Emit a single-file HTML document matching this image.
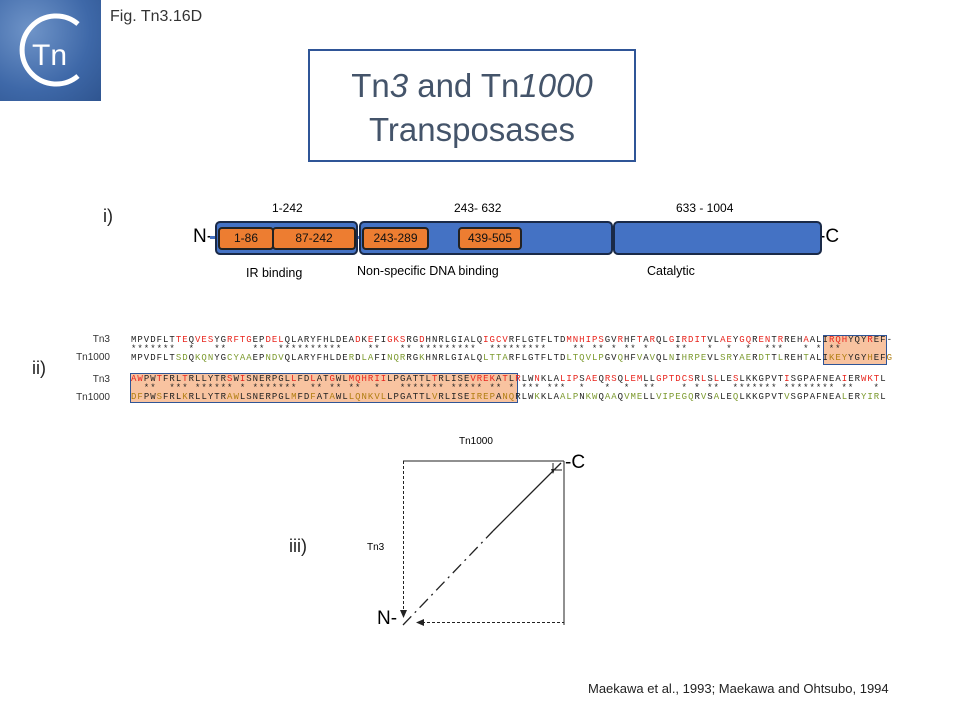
<!DOCTYPE html>
<html><head><meta charset="utf-8"><style>
body{margin:0;width:960px;height:720px;background:#fff;position:relative;overflow:hidden;font-family:"Liberation Sans",sans-serif}
.a{position:absolute}
.seq{position:absolute;left:131px;font-family:"Liberation Mono",monospace;font-size:9px;line-height:9px;white-space:pre;color:#222;letter-spacing:1px}
.r{color:#e8241c}.g{color:#7c9a2e}.o{color:#b07d10}
.lbl{position:absolute;font-size:10px;color:#333;text-align:right;width:60px}
.box{position:absolute;background:#4472c4;border:2px solid #1a2a48;border-radius:5px}
.ob{position:absolute;background:#ed7d31;border:2px solid #222;border-radius:4px;color:#111;font-size:12px;text-align:center;line-height:19px}
</style></head><body>
<div class="a" style="left:0;top:0;width:101px;height:101px;background:radial-gradient(circle at 30% 30%,#6f94c8,#3e68a8 60%,#2f5590);"></div>
<svg class="a" style="left:0;top:0" width="101" height="101"><path d="M78 24 A34 34 0 1 0 78 76" fill="none" stroke="#fff" stroke-width="5"/><text x="32" y="65" font-family="Liberation Sans" font-size="30" fill="#fff">Tn</text></svg>
<div class="a" style="left:110px;top:8px;font-size:16px;color:#333">Fig. Tn3.16D</div>
<div class="a" style="left:308px;top:49px;width:328px;height:113px;border:2px solid #2f5597;text-align:center;color:#44546a;font-size:33px;line-height:44px;padding-top:13px;box-sizing:border-box">Tn<i>3</i> and Tn<i>1000</i><br>Transposases</div>
<div class="a" style="left:103px;top:206px;font-size:18px;color:#222">i)</div>
<div class="a" style="left:272px;top:201px;font-size:12px">1-242</div>
<div class="a" style="left:454px;top:201px;font-size:12px">243- 632</div>
<div class="a" style="left:676px;top:201px;font-size:12px">633 - 1004</div>
<div class="a" style="left:193px;top:226px;font-size:19px">N-</div>
<div class="a" style="left:819px;top:226px;font-size:19px">-C</div>
<div class="a" style="left:210px;top:236px;width:612px;height:3px;background:#4472c4"></div>
<div class="box" style="left:215px;top:221px;width:139px;height:30px"></div>
<div class="box" style="left:359px;top:221px;width:250px;height:30px"></div>
<div class="box" style="left:613px;top:221px;width:205px;height:30px"></div>
<div class="ob" style="left:218px;top:227px;width:52px;height:19px">1-86</div>
<div class="ob" style="left:272px;top:227px;width:80px;height:19px">87-242</div>
<div class="ob" style="left:362px;top:227px;width:63px;height:19px">243-289</div>
<div class="ob" style="left:458px;top:227px;width:60px;height:19px">439-505</div>
<div class="a" style="left:246px;top:266px;font-size:12.5px">IR binding</div>
<div class="a" style="left:357px;top:264px;font-size:12.5px">Non-specific DNA binding</div>
<div class="a" style="left:647px;top:264px;font-size:12.5px">Catalytic</div>
<div class="a" style="left:32px;top:358px;font-size:18px;color:#222">ii)</div>
<div class="lbl" style="left:50px;top:334px">Tn3</div>
<div class="lbl" style="left:50px;top:352px">Tn1000</div>
<div class="lbl" style="left:50px;top:374px">Tn3</div>
<div class="lbl" style="left:50px;top:392px">Tn1000</div>
<div class="a" style="left:823px;top:335px;width:62px;height:28px;background:#f8c3a0;border:1px solid #2f5597"></div>
<div class="a" style="left:130px;top:373px;width:386px;height:28px;background:#f8c3a0;border:1px solid #2f5597"></div>
<div class="seq" style="top:336px">MPVDFLT<span class="r">TE</span>Q<span class="r">VES</span>YG<span class="r">RFTG</span>EP<span class="r">DEL</span>QLARYFHLDEA<span class="r">D</span>K<span class="r">E</span>FI<span class="r">GKS</span>RG<span class="r">D</span>HNRLGIALQ<span class="r">IGCV</span>RFLGTFLTD<span class="r">MNHIPS</span>GV<span class="r">R</span>HF<span class="r">T</span>A<span class="r">R</span>QL<span class="r">G</span>I<span class="r">RDIT</span>VL<span class="r">AE</span>Y<span class="r">GQ</span>R<span class="r">EN</span>T<span class="r">R</span>REH<span class="r">A</span>ALI<span class="r">RQH</span>YQY<span class="r">R</span>EF-
*******  *   **    **  **********    **   ** *********  *********    ** ** * ** *    **   *  *  *  ***   * * **
MPVDFLT<span class="g">SD</span>Q<span class="g">KQN</span>YG<span class="g">CYAA</span>EP<span class="g">NDV</span>QLARYFHLDE<span class="g">R</span>D<span class="g">LA</span>FI<span class="g">NQR</span>RG<span class="g">K</span>HNRLGIALQ<span class="g">LTTA</span>RFLGTFLTD<span class="g">LTQVLP</span>GV<span class="g">Q</span>HF<span class="g">V</span>A<span class="g">V</span>QL<span class="g">N</span>I<span class="g">HRPE</span>VL<span class="g">SR</span>Y<span class="g">AE</span>R<span class="g">DT</span>T<span class="g">L</span>REH<span class="g">T</span>ALI<span class="o">KEY</span>YGY<span class="o">H</span>EF<span class="o">G</span></div>
<div class="seq" style="top:375px"><span class="r">AW</span>PW<span class="r">T</span>FRL<span class="r">T</span>RLLYTR<span class="r">S</span>W<span class="r">I</span>SNERPGL<span class="r">L</span>FD<span class="r">L</span>AT<span class="r">G</span>WL<span class="r">MQHRII</span>LPGATTL<span class="r">T</span>RLISE<span class="r">VREK</span>A<span class="r">T</span>L<span class="r">R</span>LW<span class="r">N</span>KLA<span class="r">LIP</span>S<span class="r">AE</span>Q<span class="r">RS</span>Q<span class="r">LEM</span>LL<span class="r">GPTDCS</span>R<span class="r">L</span>S<span class="r">L</span>LE<span class="r">S</span>LKKGPVT<span class="r">I</span>SGPAFNEA<span class="r">I</span>ER<span class="r">WKT</span>L
  **  *** ****** * *******  ** ** **  *   ******* ***** ** * *** ***  *   *  *  **    * * **  ******* ******** **   *
<span class="o">DF</span>PW<span class="o">S</span>FRL<span class="o">K</span>RLLYTR<span class="o">AW</span>LSNERPGL<span class="o">M</span>FD<span class="o">F</span>AT<span class="o">A</span>WL<span class="o">LQNKVL</span>LPGATTL<span class="o">V</span>RLISE<span class="o">IREP</span>A<span class="o">NQ</span>RLW<span class="g">K</span>KLA<span class="g">ALP</span>N<span class="g">KW</span>Q<span class="g">AA</span>Q<span class="g">VME</span>LL<span class="g">VIPEGQ</span>R<span class="g">V</span>S<span class="g">A</span>LE<span class="g">Q</span>LKKGPVT<span class="g">V</span>SGPAFNEA<span class="g">L</span>ER<span class="g">YIR</span>L</div>
<div class="a" style="left:289px;top:536px;font-size:18px;color:#222">iii)</div>
<div class="a" style="left:459px;top:436px;font-size:10px">Tn1000</div>
<div class="a" style="left:367px;top:542px;font-size:10px">Tn3</div>
<div class="a" style="left:377px;top:608px;font-size:19px">N-</div>
<div class="a" style="left:565px;top:452px;font-size:19px">-C</div>
<svg class="a" style="left:0;top:0" width="960" height="720">
<line x1="403" y1="461" x2="564" y2="461" stroke="#222" stroke-width="1"/>
<line x1="564" y1="461" x2="564" y2="625" stroke="#222" stroke-width="1"/>
<line x1="403.5" y1="461" x2="403.5" y2="612" stroke="#222" stroke-width="1" stroke-dasharray="3,2"/>
<path d="M400 610 L403.5 618 L407 610 Z" fill="#222"/>
<line x1="422" y1="622.5" x2="564" y2="622.5" stroke="#222" stroke-width="1" stroke-dasharray="3,2"/>
<path d="M424 619 L416 622.5 L424 626 Z" fill="#222"/>
<line x1="403" y1="625" x2="493" y2="531" stroke="#222" stroke-width="1.3" stroke-dasharray="12,5,2,5"/>
<line x1="493" y1="531" x2="561" y2="463" stroke="#222" stroke-width="1.3"/>
<line x1="553" y1="463" x2="553" y2="471" stroke="#222"/>
<path d="M551 469 L553 474 L555 469Z" fill="#222"/>
<line x1="562" y1="470" x2="555" y2="470" stroke="#222"/>
</svg>
<div class="a" style="left:588px;top:681px;font-size:13px;color:#222">Maekawa et al., 1993; Maekawa and Ohtsubo, 1994</div>
</body></html>
